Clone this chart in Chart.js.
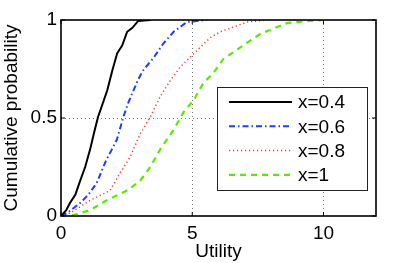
<!DOCTYPE html>
<html>
<head>
<meta charset="utf-8">
<script src="https://cdn.jsdelivr.net/npm/chart.js@4/dist/chart.umd.min.js"></script>
<style>
  html, body { margin: 0; padding: 0; background: #fff; }
  #wrap { width: 415px; height: 263px; position: relative; }
</style>
</head>
<body>
<div id="wrap"><canvas id="cdfChart" width="415" height="263"></canvas></div>
<script>
// ─── Data ────────────────────────────────────────────────────────────────────

const X_TICKS = [0, 5, 10];
const Y_TICKS = [0, 0.5, 1];
const SERIES_LABELS = ['x=0.4', 'x=0.6', 'x=0.8', 'x=1'];

const util04 = [0, 0.04, 0.2, 0.34, 0.55, 0.73, 0.92, 1.11, 1.25, 1.41, 1.58, 1.76, 1.95, 2.14, 2.33, 2.52, 2.72, 2.94, 3.4];
const cdf04  = [0, 0.005, 0.03, 0.066, 0.11, 0.18, 0.25, 0.34, 0.42, 0.505, 0.57, 0.64, 0.74, 0.83, 0.87, 0.94, 0.96, 0.995, 1];

const util06 = [0, 0.22, 0.73, 1.05, 1.36, 1.55, 1.74, 1.94, 2.13, 2.38, 2.57, 2.76, 2.95, 3.14, 3.52, 3.9, 4.29, 4.8, 5.56];
const cdf06  = [0, 0.014, 0.066, 0.11, 0.168, 0.23, 0.29, 0.34, 0.39, 0.507, 0.58, 0.64, 0.7, 0.745, 0.806, 0.88, 0.94, 0.99, 1];

const util08 = [0, 0.34, 1.11, 1.87, 2.25, 2.63, 3.02, 3.4, 3.78, 4.16, 4.54, 4.92, 5.3, 5.69, 6.07, 6.56, 7.1, 7.86];
const cdf08  = [0, 0.014, 0.08, 0.13, 0.22, 0.30, 0.42, 0.505, 0.61, 0.69, 0.76, 0.81, 0.86, 0.91, 0.94, 0.964, 0.99, 1];

const util10 = [0, 0.47, 1.11, 1.74, 2.51, 3.02, 3.4, 3.78, 4.29, 4.67, 5.05, 5.43, 5.81, 6.18, 6.83, 7.6, 8.63, 9.39, 10];
const cdf10  = [0, 0.005, 0.03, 0.08, 0.13, 0.18, 0.25, 0.34, 0.44, 0.53, 0.59, 0.68, 0.73, 0.80, 0.86, 0.93, 0.985, 0.995, 1];

// ─── Helpers ─────────────────────────────────────────────────────────────────

const FONT = 'Liberation Sans, Arial, Helvetica, sans-serif';

function pts(xs, ys) {
  return xs.map((x, i) => ({ x, y: ys[i] }));
}

const STYLES = [
  { color: '#000000', width: 2,   dash: [] },
  { color: '#1f3dff', width: 2,   dash: [6, 3, 1.5, 3] },
  { color: '#ff3030', width: 1.5, dash: [1.2, 2.8] },
  { color: '#5aeb00', width: 2.2, dash: [6, 5] }
];

const seriesData = [pts(util04, cdf04), pts(util06, cdf06), pts(util08, cdf08), pts(util10, cdf10)];

// ─── Box, inward ticks, legend ───────────────────────────────────────────────

const matlabBox = {
  id: 'matlabBox',
  afterDatasetsDraw(chart) {
    const { ctx, chartArea: a, scales } = chart;
    ctx.save();
    ctx.strokeStyle = '#000';
    ctx.lineWidth = 1.6;
    ctx.setLineDash([]);
    ctx.strokeRect(a.left, a.top, a.right - a.left, a.bottom - a.top);

    // inward tick marks
    ctx.lineWidth = 1;
    const tl = 4;
    X_TICKS.forEach(v => {
      const px = scales.x.getPixelForValue(v);
      ctx.beginPath();
      ctx.moveTo(px, a.bottom); ctx.lineTo(px, a.bottom - tl);
      ctx.moveTo(px, a.top);    ctx.lineTo(px, a.top + tl);
      ctx.stroke();
    });
    Y_TICKS.forEach(v => {
      const py = scales.y.getPixelForValue(v);
      ctx.beginPath();
      ctx.moveTo(a.left, py);  ctx.lineTo(a.left + tl, py);
      ctx.moveTo(a.right, py); ctx.lineTo(a.right - tl, py);
      ctx.stroke();
    });

    // legend box
    const bx = a.left + 156, by = a.top + 67, bw = 150, bh = 103;
    ctx.fillStyle = '#fff';
    ctx.fillRect(bx, by, bw, bh);
    ctx.strokeStyle = '#222';
    ctx.lineWidth = 1;
    ctx.strokeRect(bx + 0.5, by + 0.5, bw, bh);

    ctx.font = '19px ' + FONT;
    ctx.textBaseline = 'middle';
    ctx.textAlign = 'left';
    SERIES_LABELS.forEach((label, i) => {
      const y = by + 15 + i * 24.3;
      const s = STYLES[i];
      ctx.strokeStyle = s.color;
      ctx.lineWidth = s.width;
      ctx.setLineDash(s.dash);
      ctx.beginPath();
      ctx.moveTo(bx + 12, y); ctx.lineTo(bx + 75, y);
      ctx.stroke();
      ctx.setLineDash([]);
      ctx.fillStyle = '#000';
      ctx.fillText(label, bx + 81, y + 1);
    });
    ctx.restore();
  }
};

// ─── Chart ───────────────────────────────────────────────────────────────────

new Chart(document.getElementById('cdfChart'), {
  type: 'scatter',
  data: {
    datasets: seriesData.map((d, i) => ({
      label: SERIES_LABELS[i],
      data: d,
      showLine: true,
      borderColor: STYLES[i].color,
      borderWidth: STYLES[i].width,
      borderDash: STYLES[i].dash,
      pointRadius: 0,
      tension: 0,
      fill: false
    }))
  },
  options: {
    responsive: false,
    animation: false,
    layout: { padding: { top: 20, right: 39, left: 0, bottom: 0 } },
    plugins: {
      legend: { display: false },
      tooltip: { enabled: false }
    },
    scales: {
      x: {
        type: 'linear',
        min: 0,
        max: 12,
        afterBuildTicks: s => { s.ticks = X_TICKS.map(v => ({ value: v })); },
        afterFit: s => { s.height = 47; },
        border: { display: false, dash: [1, 3] },
        grid: {
          color: c => (c.tick && (c.tick.value === 0) ? 'transparent' : '#777'),
          lineWidth: 1,
          tickLength: 0,
          drawTicks: false
        },
        ticks: {
          color: '#000',
          font: { family: FONT, size: 19 },
          padding: 6,
          maxRotation: 0
        },
        title: {
          display: true,
          text: 'Utility',
          color: '#000',
          font: { family: FONT, size: 19 },
          padding: { top: 0, bottom: 0 }
        }
      },
      y: {
        type: 'linear',
        min: 0,
        max: 1,
        afterBuildTicks: s => { s.ticks = Y_TICKS.map(v => ({ value: v })); },
        afterFit: s => { s.width = 61; },
        border: { display: false, dash: [1, 3] },
        grid: {
          color: c => (c.tick && (c.tick.value === 0 || c.tick.value === 1) ? 'transparent' : '#777'),
          lineWidth: 1,
          tickLength: 0,
          drawTicks: false
        },
        ticks: {
          color: '#000',
          font: { family: FONT, size: 19 },
          padding: 4,
          callback: v => String(v)
        },
        title: {
          display: true,
          text: 'Cumulative probability',
          color: '#000',
          font: { family: FONT, size: 19 },
          padding: { top: 0, bottom: 0 }
        }
      }
    }
  },
  plugins: [matlabBox]
});
</script>
</body>
</html>
